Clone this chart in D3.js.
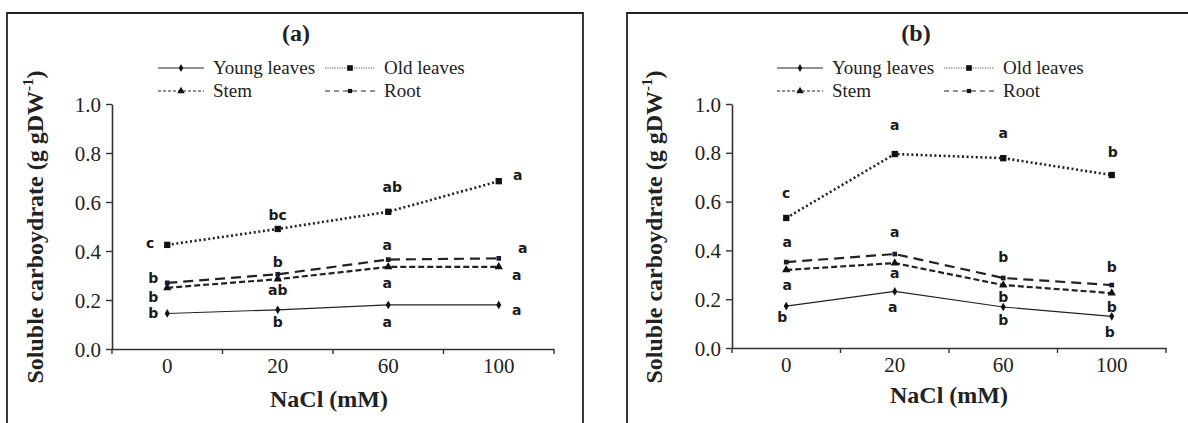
<!DOCTYPE html>
<html>
<head>
<meta charset="utf-8">
<script src="https://cdn.jsdelivr.net/npm/d3@7"></script>
<style>
  body { margin: 0; background: #fff; }
  svg { display: block; }
</style>
</head>
<body>
<svg id="chart" width="1188" height="423"></svg>
<script>
// categories and ticks
const doses = ['0', '20', '60', '100'];
const seriesNames = ['Young leaves', 'Old leaves', 'Stem', 'Root'];
const yTicks = [0, 0.2, 0.4, 0.6, 0.8, 1.0];

// panel (a) values
const youngA = [0.145, 0.16, 0.18, 0.18];
const oldA = [0.425, 0.49, 0.56, 0.685];
const stemA = [0.25, 0.285, 0.335, 0.335];
const rootA = [0.27, 0.305, 0.365, 0.37];

// panel (b) values
const youngB = [0.172, 0.232, 0.168, 0.13];
const oldB = [0.533, 0.795, 0.778, 0.709];
const stemB = [0.32, 0.348, 0.258, 0.225];
const rootB = [0.352, 0.385, 0.287, 0.258];

// significance letters
const youngLettersA = ['b', 'b', 'a', 'a'];
const oldLettersA = ['c', 'bc', 'ab', 'a'];
const stemLettersA = ['b', 'ab', 'a', 'a'];
const rootLettersA = ['b', 'b', 'a', 'a'];
const youngLettersB = ['b', 'a', 'b', 'b'];
const oldLettersB = ['c', 'a', 'a', 'b'];
const stemLettersB = ['a', 'a', 'b', 'b'];
const rootLettersB = ['a', 'a', 'b', 'b'];

// where each letter sits relative to its point (px)
const offsetsA = [
  [[-14, 0], [0, 12], [-1, 17], [18, 5]],
  [[-17, -2], [0, -14], [4, -25], [19, -6]],
  [[-14, 9], [0, 11], [-1, 16], [18, 8]],
  [[-14, -5], [0, -12], [-1, -15], [24, -10]]
];
const offsetsB = [
  [[-4, 11], [-2, 16], [0, 13], [-2, 16]],
  [[0, -25], [0, -29], [0, -25], [1, -23]],
  [[1, 15], [0, 10], [0, 12], [0, 14]],
  [[1, -20], [0, -22], [0, -21], [0, -18]]
];

const styles = [
  { dash: null, width: 1.2, legDash: null, legWidth: 1.2, symbol: d3.symbolDiamond, size: 22 },
  { dash: '2,2.6', width: 2.6, legDash: '1.2,1.2', legWidth: 1, symbol: d3.symbolSquare, size: 40 },
  { dash: '6,3', width: 2.2, legDash: '3,2', legWidth: 1, symbol: d3.symbolTriangle, size: 30 },
  { dash: '10,6', width: 2.2, legDash: '5,4', legWidth: 1, symbol: d3.symbolSquare, size: 22 }
];

const serif = '"Liberation Serif", "Times New Roman", serif';
const ink = '#222';
const svg = d3.select('#chart');

function drawPanel(p) {
  const g = svg.append('g');

  // frame (open at the bottom)
  const fr = p.frame;
  const framePath = fr.right != null
    ? `M${fr.left},423 V${fr.top} H${fr.right} V423`
    : `M${fr.left},423 V${fr.top} H1188`;
  g.append('path').attr('d', framePath)
    .attr('fill', 'none').attr('stroke', ink).attr('stroke-width', 1.8);

  const x = d3.scaleBand().domain(doses).range(p.xRange).paddingInner(0).paddingOuter(0);
  const y = d3.scaleLinear().domain([0, 1]).range(p.yRange);
  const cx = d => x(d) + x.bandwidth() / 2;

  // y axis
  const yAxis = d3.axisLeft(y).tickValues(yTicks).tickFormat(d3.format('.1f'))
    .tickSize(6).tickPadding(5).tickSizeOuter(0);
  const ya = g.append('g').attr('transform', `translate(${p.xRange[0]},0)`).call(yAxis);
  ya.select('.domain').attr('stroke', '#333').attr('stroke-width', 1.6);
  ya.selectAll('.tick line').attr('stroke', '#333').attr('stroke-width', 1.4);
  ya.selectAll('.tick text').attr('font-family', serif).attr('font-size', 21)
    .attr('fill', ink).attr('dy', '0.34em');

  // x axis: labels at band centres, ticks at band edges
  const x0 = p.yRange[0];
  const xAxis = d3.axisBottom(x).tickSize(0).tickPadding(9).tickSizeOuter(0);
  const xa = g.append('g').attr('transform', `translate(0,${x0})`).call(xAxis);
  xa.select('.domain').attr('stroke', '#333').attr('stroke-width', 1.6);
  xa.selectAll('.tick text').attr('font-family', serif).attr('font-size', 21).attr('fill', ink);
  const edges = doses.map(d => x(d)).concat([p.xRange[1]]);
  g.append('g').selectAll('line').data(edges).join('line')
    .attr('x1', d => d).attr('x2', d => d)
    .attr('y1', x0).attr('y2', x0 + 5)
    .attr('stroke', '#333').attr('stroke-width', 1.4);

  // series
  const line = d3.line().x((d, i) => cx(doses[i])).y(d => y(d));
  p.values.forEach((vals, s) => {
    const st = styles[s];
    g.append('path').datum(vals).attr('d', line)
      .attr('fill', 'none').attr('stroke', ink).attr('stroke-width', st.width)
      .attr('stroke-dasharray', st.dash);
    g.append('g').selectAll('path').data(vals).join('path')
      .attr('d', d3.symbol().type(st.symbol).size(st.size))
      .attr('transform', (d, i) => `translate(${cx(doses[i])},${y(d)})`)
      .attr('fill', s === 3 ? '#1a1a33' : '#111');
    g.append('g').selectAll('text').data(vals).join('text')
      .attr('x', (d, i) => cx(doses[i]) + p.offsets[s][i][0])
      .attr('y', (d, i) => y(d) + p.offsets[s][i][1])
      .attr('text-anchor', 'middle').attr('dominant-baseline', 'central')
      .attr('font-family', '"DejaVu Sans", sans-serif').attr('font-weight', 'bold')
      .attr('font-size', 14).attr('fill', '#1a1a1a')
      .text((d, i) => p.letters[s][i]);
  });

  // legend
  const legCols = [p.legX, p.legX + 167];
  seriesNames.forEach((name, s) => {
    const st = styles[s];
    const lx = legCols[s % 2];
    const ly = s < 2 ? 68 : 91;
    const lw = s % 2 === 0 ? 46 : 50;
    g.append('line').attr('x1', lx).attr('x2', lx + lw).attr('y1', ly).attr('y2', ly)
      .attr('stroke', s === 1 ? '#555' : ink).attr('stroke-width', st.legWidth)
      .attr('stroke-dasharray', st.legDash);
    g.append('path').attr('d', d3.symbol().type(st.symbol).size(st.size * 0.8))
      .attr('transform', `translate(${lx + lw / 2},${ly})`).attr('fill', '#111');
    g.append('text').attr('x', lx + lw + 9).attr('y', ly + 5.5)
      .attr('font-family', serif).attr('font-size', 19).attr('fill', ink).text(name);
  });

  // title
  g.append('text').attr('x', p.titleX).attr('y', 41).attr('text-anchor', 'middle')
    .attr('font-family', serif).attr('font-weight', 'bold').attr('font-size', 24)
    .attr('fill', ink).text(p.title);

  // axis titles
  g.append('text').attr('x', p.xTitle[0]).attr('y', p.xTitle[1]).attr('text-anchor', 'middle')
    .attr('font-family', serif).attr('font-weight', 'bold').attr('font-size', 24)
    .attr('fill', ink).text('NaCl (mM)');
  const yt = g.append('text')
    .attr('transform', `translate(${p.yTitle[0]},${p.yTitle[1]}) rotate(-90)`)
    .attr('text-anchor', 'middle')
    .attr('font-family', serif).attr('font-weight', 'bold').attr('font-size', 24)
    .attr('fill', ink);
  yt.append('tspan').text('Soluble carboydrate (g gDW');
  yt.append('tspan').attr('font-size', 15).attr('dy', -10).text('-1');
  yt.append('tspan').attr('dy', 10).text(')');
}

drawPanel({
  frame: { left: 7, top: 13, right: 583 },
  xRange: [112, 554], yRange: [349, 104],
  values: [youngA, oldA, stemA, rootA],
  letters: [youngLettersA, oldLettersA, stemLettersA, rootLettersA],
  offsets: offsetsA,
  legX: 158, title: '(a)', titleX: 296,
  xTitle: [329, 407], yTitle: [43, 227]
});

drawPanel({
  frame: { left: 627, top: 13, right: null },
  xRange: [732, 1166], yRange: [348, 104],
  values: [youngB, oldB, stemB, rootB],
  letters: [youngLettersB, oldLettersB, stemLettersB, rootLettersB],
  offsets: offsetsB,
  legX: 777, title: '(b)', titleX: 916,
  xTitle: [949, 403], yTitle: [662, 227]
});
</script>
</body>
</html>
